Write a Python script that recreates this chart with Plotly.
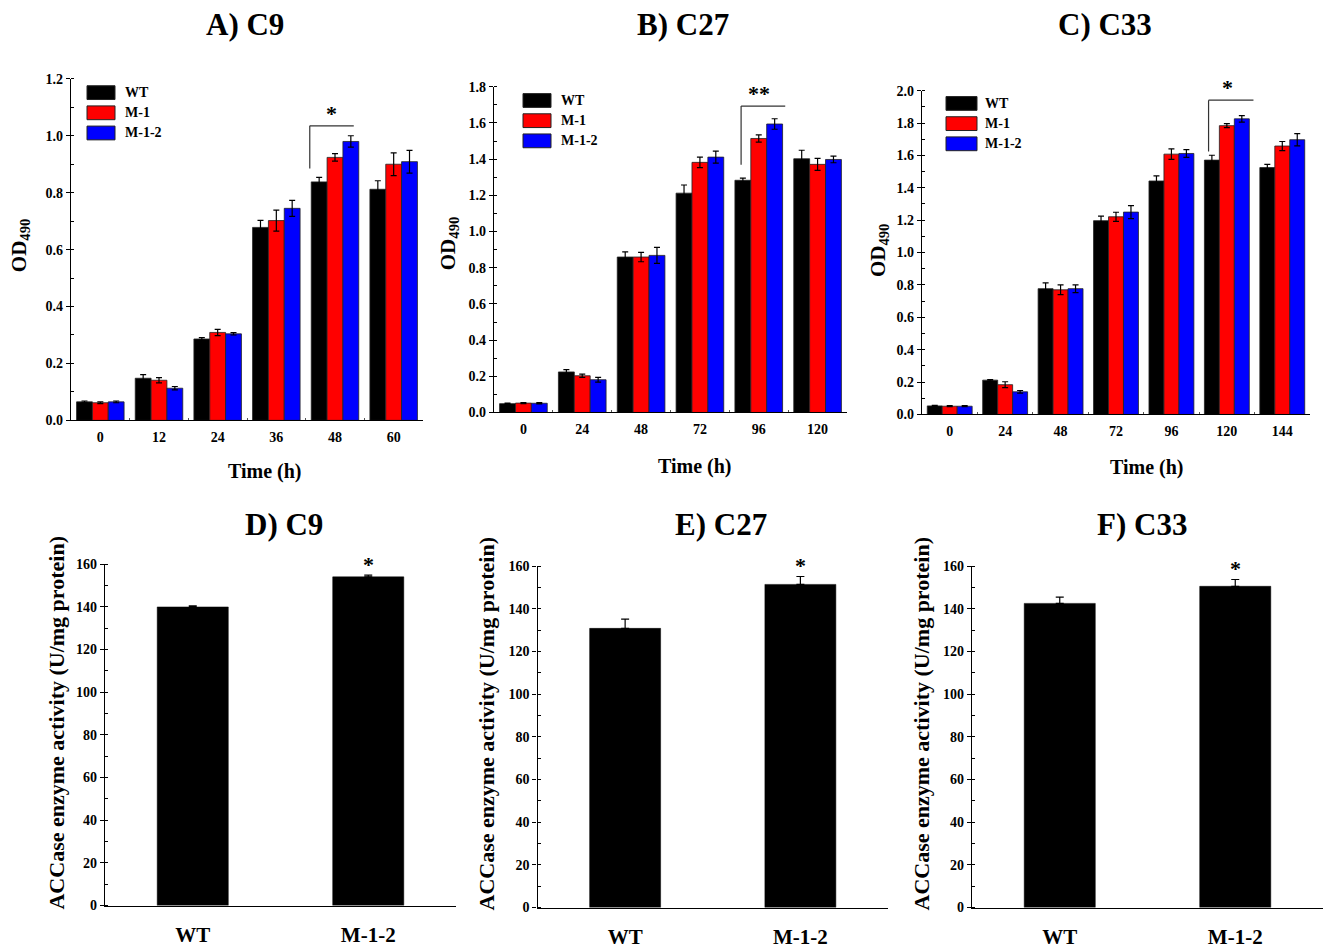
import plotly.graph_objects as go

W, H = 1325, 950
FONT = "Liberation Serif, Times New Roman, serif"

# ---------------- data ----------------
series_names = ["WT", "M-1", "M-1-2"]
series_colors = ["#000000", "#FF0000", "#0000FF"]

# Panel A) C9 growth (OD490)
a_time = ["0", "12", "24", "36", "48", "60"]
a_wt = [0.065, 0.148, 0.286, 0.678, 0.838, 0.812]
a_wt_err = [0.003, 0.013, 0.005, 0.025, 0.016, 0.030]
a_m1 = [0.062, 0.141, 0.309, 0.702, 0.924, 0.900]
a_m1_err = [0.003, 0.009, 0.011, 0.037, 0.013, 0.040]
a_m12 = [0.065, 0.113, 0.304, 0.745, 0.980, 0.909]
a_m12_err = [0.003, 0.006, 0.004, 0.028, 0.020, 0.040]

# Panel B) C27 growth (OD490)
b_time = ["0", "24", "48", "72", "96", "120"]
b_wt = [0.049, 0.224, 0.859, 1.212, 1.283, 1.402]
b_wt_err = [0.003, 0.013, 0.029, 0.045, 0.012, 0.047]
b_m1 = [0.052, 0.203, 0.859, 1.382, 1.514, 1.371]
b_m1_err = [0.003, 0.009, 0.026, 0.029, 0.020, 0.033]
b_m12 = [0.051, 0.181, 0.868, 1.411, 1.594, 1.398]
b_m12_err = [0.003, 0.013, 0.044, 0.033, 0.029, 0.018]

# Panel C) C33 growth (OD490)
c_time = ["0", "24", "48", "72", "96", "120", "144"]
c_wt = [0.053, 0.212, 0.777, 1.197, 1.442, 1.571, 1.525]
c_wt_err = [0.003, 0.004, 0.036, 0.028, 0.032, 0.030, 0.020]
c_m1 = [0.051, 0.184, 0.770, 1.221, 1.608, 1.784, 1.658]
c_m1_err = [0.003, 0.018, 0.030, 0.028, 0.032, 0.012, 0.028]
c_m12 = [0.051, 0.140, 0.777, 1.250, 1.612, 1.826, 1.697]
c_m12_err = [0.003, 0.008, 0.024, 0.040, 0.024, 0.020, 0.038]

# Panels D-F) ACCase enzyme activity (U/mg protein)
acc_strains = ["WT", "M-1-2"]
d_acc = [139.9, 154.0]
d_acc_err = [0.5, 0.8]
e_acc = [130.8, 151.4]
e_acc_err = [4.3, 3.7]
f_acc = [142.5, 150.5]
f_acc_err = [2.9, 3.2]

# significance marks
growth_sig_time = ["48", "96", "120"]
growth_sig_label = ["*", "**", "*"]
acc_sig_label = ["*", "*", "*"]

# ---------------- layout helpers (window pixel -> paper fraction) ----------------
def px_x(p):
    return p / W

def px_y(p):
    return 1 - p / H

# plot boxes in window pixels (left, right, top, bottom)
boxes = {
    1: (71, 423, 73, 420),
    2: (494, 847, 81, 412),
    3: (922, 1310, 85, 414),
    4: (105, 456, 566, 913),
    5: (537.5, 888, 568, 915),
    6: (972, 1323, 568, 915),
}

fig = go.Figure()

growth_panels = [
    (1, a_time, [(a_wt, a_wt_err), (a_m1, a_m1_err), (a_m12, a_m12_err)], 1.2),
    (2, b_time, [(b_wt, b_wt_err), (b_m1, b_m1_err), (b_m12, b_m12_err)], 1.8),
    (3, c_time, [(c_wt, c_wt_err), (c_m1, c_m1_err), (c_m12, c_m12_err)], 2.0),
]

def axname(i, kind):
    return kind if i == 1 else f"{kind}{i}"

annotations = []
shapes = []

tick_font = dict(family=FONT, size=14, color="black", weight="bold")

for idx, times, series, ymax in growth_panels:
    xa, ya = axname(idx, "x"), axname(idx, "y")
    for (vals, errs), name, col in zip(series, series_names, series_colors):
        fig.add_trace(go.Bar(
            x=times, y=vals, name=name, xaxis=xa, yaxis=ya,
            marker=dict(color=col, line=dict(color="#222222", width=0.8)),
            error_y=dict(type="data", array=errs, color="black", thickness=1.2, width=3),
            showlegend=False,
        ))
    l, r, t, b = boxes[idx]
    fig.update_layout(**{
        ("xaxis" if idx == 1 else f"xaxis{idx}"): dict(
            domain=[px_x(l), px_x(r)], anchor=ya, type="category",
            range=[-0.5, len(times) - 0.5], showline=True, linecolor="black", linewidth=1.2,
            ticks="inside", ticklen=2, tickson="boundaries", tickcolor="#555555",
            ticklabelstandoff=4,
            tickfont=tick_font, showgrid=False, zeroline=False, fixedrange=True,
        ),
        ("yaxis" if idx == 1 else f"yaxis{idx}"): dict(
            domain=[px_y(b), px_y(t)], anchor=xa, range=[0, ymax], dtick=0.2,
            tickformat=".1f", showline=True, linecolor="black", linewidth=1.2,
            ticks="outside", ticklen=4, tickcolor="black", tickfont=tick_font,
            minor=dict(dtick=0.1, ticks="inside", ticklen=3, tickcolor="black"),
            showgrid=False, zeroline=False,
        ),
    })

acc_panels = [
    (4, d_acc, d_acc_err),
    (5, e_acc, e_acc_err),
    (6, f_acc, f_acc_err),
]
for (idx, vals, errs), lab in zip(acc_panels, acc_sig_label):
    xa, ya = axname(idx, "x"), axname(idx, "y")
    fig.add_trace(go.Bar(
        x=acc_strains, y=vals, xaxis=xa, yaxis=ya, width=0.405,
        marker=dict(color="black", line=dict(color="black", width=0.5)),
        error_y=dict(type="data", array=errs, arrayminus=[0] * len(errs),
                     color="black", thickness=1.2, width=4),
        showlegend=False,
    ))
    l, r, t, b = boxes[idx]
    fig.update_layout(**{
        f"xaxis{idx}": dict(
            domain=[px_x(l), px_x(r)], anchor=ya, type="category",
            range=[-0.5, len(acc_strains) - 0.5], showline=True, linecolor="black",
            linewidth=1.2, ticks="", ticklabelstandoff=10,
            tickfont=dict(family=FONT, size=21, color="black", weight="bold"),
            showgrid=False, zeroline=False,
        ),
        f"yaxis{idx}": dict(
            domain=[px_y(b), px_y(t)], anchor=xa, range=[0, 160], dtick=20,
            showline=True, linecolor="black", linewidth=1.2,
            ticks="outside", ticklen=4, tickcolor="black", tickfont=tick_font,
            minor=dict(dtick=10, ticks="inside", ticklen=3, tickcolor="black"),
            showgrid=False, zeroline=False,
        ),
    })
    # significance star above M-1-2 bar
    annotations.append(dict(
        x=1, y=vals[1] + errs[1], xref=xa, yref=ya, text="<b>" + lab + "</b>",
        showarrow=False, yanchor="bottom", yshift=-4,
        font=dict(family=FONT, size=22, color="black"),
    ))

# growth significance brackets
# (panel, left offset, right offset, bracket top, bracket bottom, star offset)
bracket_geom = [
    (1, -0.43, 0.32, 1.035, 0.885, -0.06),
    (2, -0.30, 0.45, 1.693, 1.369, 0.0),
    (3, -0.33, 0.48, 1.941, 1.624, 0.01),
]
growth_times = {1: a_time, 2: b_time, 3: c_time}
for (idx, xl, xr, ytop, ybot, sx), tcat, lab in zip(bracket_geom, growth_sig_time, growth_sig_label):
    xa, ya = axname(idx, "x"), axname(idx, "y")
    gi = growth_times[idx].index(tcat)
    line_style = dict(color="#333333", width=1.2)
    shapes.append(dict(type="line", xref=xa, yref=ya, x0=gi + xl, x1=gi + xr,
                       y0=ytop, y1=ytop, line=line_style))
    shapes.append(dict(type="line", xref=xa, yref=ya, x0=gi + xl, x1=gi + xl,
                       y0=ytop, y1=ybot, line=line_style))
    annotations.append(dict(
        x=gi + sx, y=ytop, xref=xa, yref=ya, text="<b>" + lab + "</b>",
        showarrow=False, yanchor="bottom", yshift=-2,
        font=dict(family=FONT, size=22, color="black"),
    ))

# manual legends (window pixels: box left, box right, first row y, text x)
legend_pos = [(87, 115, 87, 123), (523, 551, 95, 559), (946, 977, 98, 983)]
for (bl, br, ry0, tx) in legend_pos:
    for k, (name, col) in enumerate(zip(series_names, series_colors)):
        ry = ry0 + k * 20.5
        shapes.append(dict(type="rect", xref="paper", yref="paper",
                           x0=px_x(bl), x1=px_x(br), y0=px_y(ry + 7), y1=px_y(ry - 7),
                           fillcolor=col, line=dict(color="#222222", width=1)))
        annotations.append(dict(x=px_x(tx), y=px_y(ry), xref="paper", yref="paper",
                                text="<b>" + name + "</b>", showarrow=False,
                                xanchor="left", yanchor="middle",
                                font=dict(family=FONT, size=14, color="black")))

# panel titles
titles = [("A) C9", 245, 18), ("B) C27", 683, 18), ("C) C33", 1105, 18),
          ("D) C9", 284, 526), ("E) C27", 721, 526), ("F) C33", 1142, 526)]
for txt, cx, cy in titles:
    annotations.append(dict(x=px_x(cx), y=px_y(cy), xref="paper", yref="paper",
                            text="<b>" + txt + "</b>", showarrow=False,
                            xanchor="center", yanchor="middle",
                            font=dict(family=FONT, size=31, color="black")))

# axis titles
for cx, cy in [(20, 242), (449, 240), (879, 247)]:
    annotations.append(dict(x=px_x(cx), y=px_y(cy), xref="paper", yref="paper",
                            text="<b>OD<sub>490</sub></b>", showarrow=False, textangle=-90,
                            xanchor="center", yanchor="middle",
                            font=dict(family=FONT, size=21, color="black")))
for cx, cy in [(265, 472), (695, 467), (1147, 468)]:
    annotations.append(dict(x=px_x(cx), y=px_y(cy), xref="paper", yref="paper",
                            text="<b>Time (h)</b>", showarrow=False,
                            xanchor="center", yanchor="middle",
                            font=dict(family=FONT, size=20, color="black")))
for cx, cy in [(57, 727), (487, 728), (922, 728)]:
    annotations.append(dict(x=px_x(cx), y=px_y(cy), xref="paper", yref="paper",
                            text="<b>ACCase enzyme activity (U/mg protein)</b>",
                            showarrow=False, textangle=-90,
                            xanchor="center", yanchor="middle",
                            font=dict(family=FONT, size=22, color="black")))

fig.update_layout(
    width=W, height=H,
    margin=dict(l=0, r=0, t=0, b=0),
    paper_bgcolor="white", plot_bgcolor="white",
    barmode="group", bargap=0.19, bargroupgap=0,
    font=dict(family=FONT, color="black"),
    annotations=annotations, shapes=shapes,
    showlegend=False,
)

# remove the default page margin so the figure fills the window exactly
fig.write_html("out.html",
               config={"displayModeBar": False},
               post_script="document.body.style.margin='0px';document.body.style.overflow='hidden';")
